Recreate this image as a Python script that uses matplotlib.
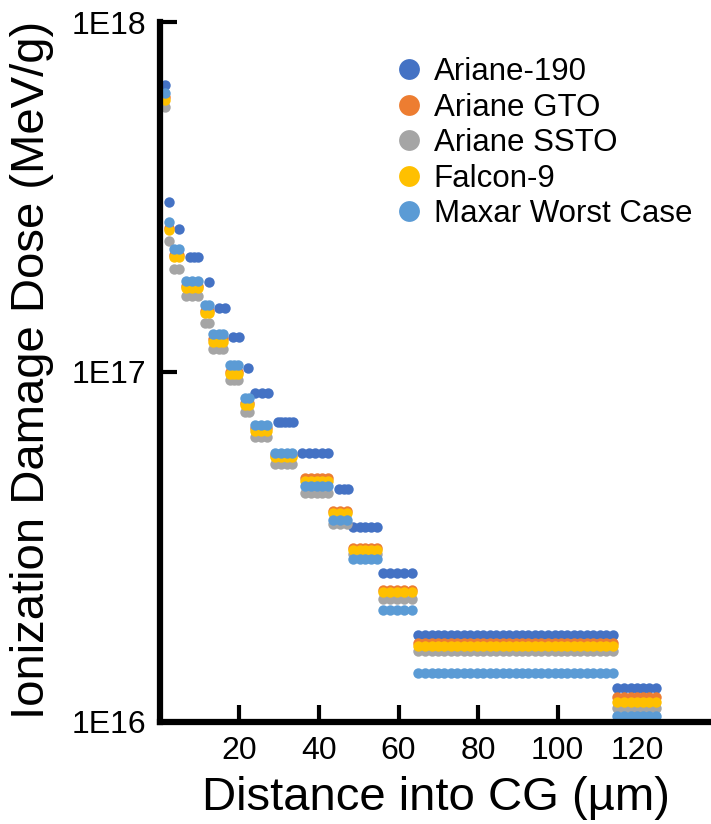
import matplotlib
matplotlib.use("Agg")
import matplotlib.pyplot as plt
from matplotlib.ticker import FixedLocator, FixedFormatter, NullLocator

plt.rcParams['font.family'] = ['Liberation Sans', 'DejaVu Sans']

series_names = ["Ariane-190", "Ariane GTO", "Ariane SSTO", "Falcon-9", "Maxar Worst Case"]
series_colors = ["#4472C4", "#ED7D31", "#A5A5A5", "#FFC000", "#5B9BD5"]

# x positions (µm) of the plotted points, grouped by dose step
x_steps_a190 = [
    [1.4], [2.4], [4.9], [7.7, 8.7, 9.7], [12.3], [15.0, 16.3], [18.5, 19.8], [22.3],
    [24.0, 25.6, 27.3], [29.6, 30.6, 31.6, 32.6, 33.6],
    [35.8, 37.4, 39.1, 40.8, 42.4], [45.0, 46.2, 47.4],
    [48.6, 50.2, 51.7, 53.2, 54.7], [56.2, 57.8, 59.5, 61.5, 63.5],
    [65.0, 66.6, 68.3, 69.9, 71.5, 73.1, 74.8, 76.4, 78.0, 79.6, 81.3, 82.9, 84.6,
     86.2, 87.8, 89.4, 91.0, 92.6, 94.3, 95.9, 97.6, 99.2, 100.8, 102.4, 104.0,
     105.6, 107.3, 108.9, 110.6, 112.2, 113.9],
    [115.0, 116.6, 118.3, 119.9, 121.5, 123.0, 124.6],
]
x_steps_other = [
    [1.4], [2.4], [3.7, 4.9], [6.7, 8.1, 9.5], [11.3, 12.3], [13.5, 14.8, 16.0],
    [17.7, 18.7, 19.7], [21.5, 22.5], [24.0, 25.5, 27.0], [29.0, 30.6, 32.0, 33.3],
    [36.6, 38.0, 39.4, 40.9, 42.4], [43.6, 45.4, 47.1],
    [48.6, 50.2, 51.7, 53.2, 54.7], [56.2, 57.8, 59.5, 61.5, 63.5],
    [65.0, 66.6, 68.3, 69.9, 71.5, 73.1, 74.8, 76.4, 78.0, 79.6, 81.3, 82.9, 84.6,
     86.2, 87.8, 89.4, 91.0, 92.6, 94.3, 95.9, 97.6, 99.2, 100.8, 102.4, 104.0,
     105.6, 107.3, 108.9, 110.6, 112.2, 113.9],
    [115.0, 116.6, 118.3, 119.9, 121.5, 123.0, 124.6],
]

# dose level (MeV/g) of each step
dose_a190 = [6.6e17, 3.06e17, 2.57e17, 2.13e17, 1.81e17, 1.52e17, 1.26e17, 1.03e17,
             8.7e16, 7.2e16, 5.87e16, 4.63e16, 3.61e16, 2.67e16, 1.77e16, 1.25e16]
dose_gto = [6.1e17, 2.58e17, 2.16e17, 1.76e17, 1.49e17, 1.24e17, 1.0e17, 8.15e16,
            6.9e16, 5.78e16, 4.98e16, 4.0e16, 3.14e16, 2.38e16, 1.68e16, 1.18e16]
dose_ssto = [5.7e17, 2.36e17, 1.97e17, 1.65e17, 1.38e17, 1.16e17, 9.5e16, 7.7e16,
             6.5e16, 5.46e16, 4.51e16, 3.67e16, 3.02e16, 2.25e16, 1.6e16, 1.10e16]
dose_f9 = [6.0e17, 2.54e17, 2.13e17, 1.74e17, 1.47e17, 1.22e17, 9.9e16, 8.05e16,
           6.8e16, 5.7e16, 4.88e16, 3.95e16, 3.1e16, 2.35e16, 1.65e16, 1.14e16]
dose_maxar = [6.27e17, 2.68e17, 2.25e17, 1.82e17, 1.55e17, 1.28e17, 1.047e17, 8.4e16,
              7.06e16, 5.87e16, 4.72e16, 3.78e16, 2.92e16, 2.09e16, 1.38e16, 1.04e16]

x_ticks = [20, 40, 60, 80, 100, 120]
y_ticks = [1e16, 1e17, 1e18]
y_tick_labels = ["1E16", "1E17", "1E18"]


def expand(x_steps, levels):
    xv, yv = [], []
    for xs_, lv in zip(x_steps, levels):
        for xx in xs_:
            xv.append(xx)
            yv.append(lv)
    return xv, yv


fig = plt.figure(figsize=(7.11, 8.24), dpi=100)
ax = fig.add_axes([0.2246, 0.1238, 0.7754, 0.8495])

x_groups = [x_steps_a190, x_steps_other, x_steps_other, x_steps_other, x_steps_other]
levels = [dose_a190, dose_gto, dose_ssto, dose_f9, dose_maxar]
handles = []
for name, color, xg, lv in zip(series_names, series_colors, x_groups, levels):
    xv, yv = expand(xg, lv)
    h, = ax.plot(xv, yv, linestyle='none', marker='o', markersize=7.5,
                 markerfacecolor=color, markeredgewidth=0, color=color,
                 label=name, clip_on=False)
    handles.append(h)

ax.set_yscale('log')
ax.set_ylim(1e16, 1e18)
ax.set_xlim(0, 138.5)

ax.xaxis.set_major_locator(FixedLocator(x_ticks))
ax.yaxis.set_major_locator(FixedLocator(y_ticks))
ax.yaxis.set_major_formatter(FixedFormatter(y_tick_labels))
ax.yaxis.set_minor_locator(NullLocator())
ax.xaxis.set_minor_locator(NullLocator())

for s in ['top', 'right']:
    ax.spines[s].set_visible(False)
for s in ['left', 'bottom']:
    ax.spines[s].set_linewidth(4.5)
    ax.spines[s].set_color('black')
    ax.spines[s].set_zorder(5)

ax.tick_params(axis='both', which='major', direction='in', length=12, width=3,
               labelsize=23, color='black')
ax.tick_params(axis='x', pad=10)
ax.tick_params(axis='y', pad=10)

fig.text(0.613, 0.017, "Distance into CG (µm)", fontsize=34, ha='center', va='baseline')
fig.text(0.045, 0.551, "Ionization Damage Dose (MeV/g)", fontsize=34, rotation=90,
         ha='center', va='center')

leg = ax.legend(handles=handles, loc='upper left', bbox_to_anchor=(0.412, 0.968),
                frameon=False, fontsize=22.5, markerscale=2.0, handlelength=0.6,
                handletextpad=0.5, labelspacing=0.18, borderaxespad=0)

fig.savefig("out.png", dpi=100)
